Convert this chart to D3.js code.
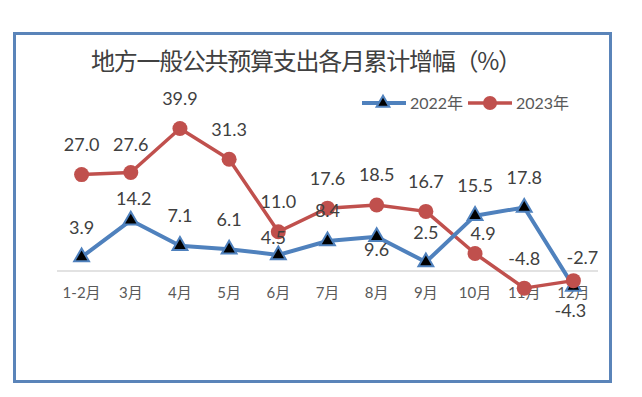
<!DOCTYPE html>
<html><head><meta charset="utf-8">
<script src="https://cdn.jsdelivr.net/npm/d3@7"></script>
<style>
html,body{margin:0;padding:0;background:#fff;}
svg{display:block;}
</style></head>
<body>
<script>
const categories = ["1-2月","3月","4月","5月","6月","7月","8月","9月","10月","11月","12月"];
const values2022 = [3.9, 14.2, 7.1, 6.1, 4.5, 8.4, 9.6, 2.5, 15.5, 17.8, -4.3];
const values2023 = [27.0, 27.6, 39.9, 31.3, 11.0, 17.6, 18.5, 16.7, 4.9, -4.8, -2.7];
const seriesNames = ["2022年", "2023年"];
const titleText = "地方一般公共预算支出各月累计增幅（%）";

const W = 642, H = 397;
const blue = "#4f81bd", red = "#c0504d";
const numFont = "Lato, 'Noto Sans CJK SC', sans-serif";

const svg = d3.select("body").append("svg").attr("width", W).attr("height", H);
svg.append("rect").attr("width", W).attr("height", H).attr("fill", "#fff");

// frame
svg.append("rect").attr("x", 14.5).attr("y", 33.5).attr("width", 596).attr("height", 348)
  .attr("fill", "#fff").attr("stroke", "#5a84b9").attr("stroke-width", 3);

// title
svg.append("text").attr("x", 306.5).attr("y", 70).attr("text-anchor", "middle")
  .attr("font-family", "'Noto Sans CJK SC', sans-serif").attr("font-size", 24)
  .attr("fill", "#404040").attr("textLength", 431).attr("lengthAdjust", "spacing")
  .text(titleText);

const x = d3.scaleBand().domain(categories).range([57, 598]);
const y = d3.scaleLinear().domain([-10, 50]).range([306.7, 92.5]);
const cx = c => x(c) + x.bandwidth() / 2;

// axis line
svg.append("line").attr("x1", 57).attr("x2", 598).attr("y1", y(0)).attr("y2", y(0))
  .attr("stroke", "#d9d9d9").attr("stroke-width", 1.5);

// x labels
const xAxis = d3.axisBottom(x).tickSize(0).tickPadding(0);
const gx = svg.append("g").attr("transform", `translate(0,${y(0)})`).call(xAxis);
gx.select(".domain").remove();
gx.selectAll("text").attr("font-family", numFont).attr("font-size", 15)
  .attr("fill", "#595959").attr("dy", null).attr("y", 27);

const line = d3.line().x((d, i) => cx(categories[i])).y(d => y(d));

// 2023 series (red)
svg.append("path").datum(values2023).attr("d", line).attr("fill", "none")
  .attr("stroke", red).attr("stroke-width", 3.5).attr("stroke-linejoin", "round");
// 2022 series (blue)
svg.append("path").datum(values2022).attr("d", line).attr("fill", "none")
  .attr("stroke", blue).attr("stroke-width", 4).attr("stroke-linejoin", "round");

const tri = d3.symbol().type(d3.symbolTriangle).size(95);
svg.append("g").selectAll("path").data(values2022).join("path")
  .attr("d", tri)
  .attr("transform", (d, i) => `translate(${cx(categories[i])},${y(d)})`)
  .attr("fill", "#000").attr("stroke", blue).attr("stroke-width", 2);

svg.append("g").selectAll("circle").data(values2023).join("circle")
  .attr("cx", (d, i) => cx(categories[i])).attr("cy", d => y(d)).attr("r", 7.5)
  .attr("fill", red);

// data labels: default above the point; a few hand-placed as in the original
const nudge2022 = {1: [3, 8], 4: [-5, 13], 6: [0, 43], 10: [-3, 54]};
const nudge2023 = {1: [0, 2], 8: [8, 10], 10: [9, 7]};
function labels(vals, nudge) {
  svg.append("g").selectAll("text").data(vals).join("text")
    .attr("x", (d, i) => cx(categories[i]) + (nudge[i] ? nudge[i][0] : 0))
    .attr("y", (d, i) => y(d) - 30 + (nudge[i] ? nudge[i][1] : 0))
    .attr("dy", "0.36em").attr("text-anchor", "middle")
    .attr("font-family", numFont).attr("font-size", 18).attr("fill", "#404040")
    .text(d => d.toFixed(1));
}
labels(values2022, nudge2022);
labels(values2023, nudge2023);

// legend
const lg = svg.append("g");
const legendItems = [
  {name: seriesNames[0], color: blue, x0: 362, type: "tri"},
  {name: seriesNames[1], color: red, x0: 468, type: "circ"}
];
legendItems.forEach(it => {
  lg.append("line").attr("x1", it.x0).attr("x2", it.x0 + 44).attr("y1", 103).attr("y2", 103)
    .attr("stroke", it.color).attr("stroke-width", it.type === "tri" ? 4 : 3.5);
  if (it.type === "tri") {
    lg.append("path").attr("d", d3.symbol().type(d3.symbolTriangle).size(70)())
      .attr("transform", `translate(${it.x0 + 21},103)`).attr("fill", "#000")
      .attr("stroke", it.color).attr("stroke-width", 2);
  } else {
    lg.append("circle").attr("cx", it.x0 + 22).attr("cy", 103).attr("r", 7).attr("fill", it.color);
  }
  lg.append("text").attr("x", it.x0 + 48).attr("y", 103).attr("dy", "0.36em")
    .attr("font-family", numFont).attr("font-size", 16).attr("fill", "#595959")
    .text(it.name);
});
</script>
</body></html>
